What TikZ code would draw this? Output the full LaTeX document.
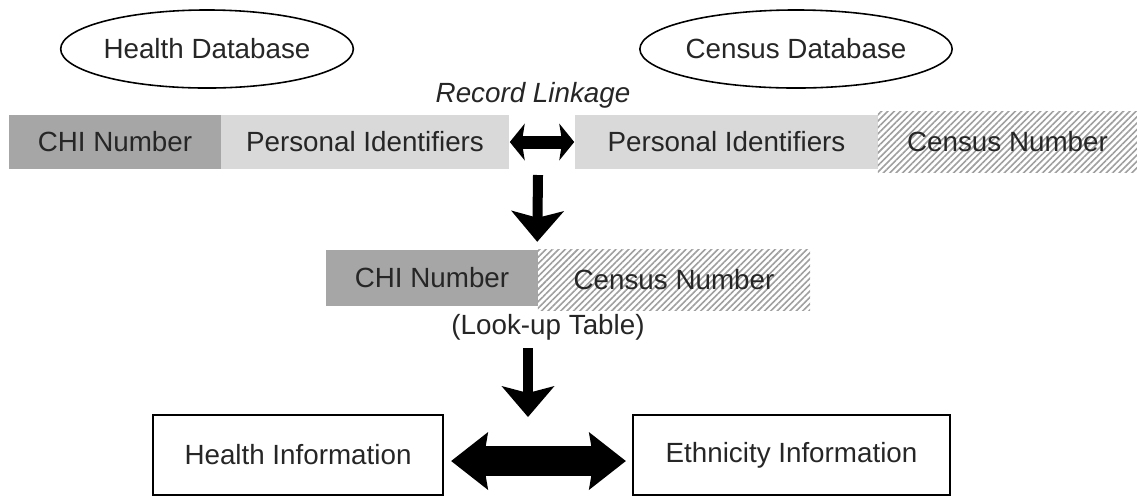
\documentclass[tikz,border=0pt]{standalone}
\usepackage{fontspec}
\setmainfont{Liberation Sans}
\usepackage{tikz}
\usetikzlibrary{shapes.geometric,arrows.meta,patterns.meta}

\begin{document}
\begin{tikzpicture}[x=0.01cm, y=-0.01cm,
    every node/.style={font=\fontsize{7.9}{9.5}\selectfont, text=black!85, inner sep=0pt},
    db/.style={draw, ellipse, line width=0.45pt, minimum height=0.78cm},
    field/.style={rectangle, minimum height=0.54cm},
    chifield/.style={field, fill=gray!70},
    idfield/.style={field, fill=gray!30},
    hatchfield/.style={field, pattern={Lines[angle=45,distance=0.045cm,line width=0.016cm]}, pattern color=gray!75},
    infobox/.style={draw, line width=0.6pt, minimum height=0.8cm},
    fatdown/.style={line width=0.1cm, -{Stealth[length=0.31cm, width=0.53cm, inset=0.07cm, line width=0pt]}},
    fatlink/.style={line width=0.13cm, {Stealth[length=0.15cm, width=0.37cm, inset=0.03cm, line width=0pt]}-{Stealth[length=0.15cm, width=0.37cm, inset=0.03cm, line width=0pt]}},
    fatjoin/.style={line width=0.3cm, {Stealth[length=0.37cm, width=0.58cm, inset=0.05cm, line width=0pt]}-{Stealth[length=0.37cm, width=0.58cm, inset=0.05cm, line width=0pt]}}
]
    \useasboundingbox (0,0) rectangle (1137,496);

    % Databases
    \node[db, minimum width=2.8cm] (hdb) at (207,49) {Health Database};
    \node[db, minimum width=2.9cm] (cdb) at (796,49) {Census Database};
    \node[font=\fontsize{7.9}{9.5}\selectfont\itshape] (link) at (533,95) {Record Linkage};

    % Fields
    \node[chifield, minimum width=2.12cm] (chiA) at (115,142) {CHI Number};
    \node[idfield, minimum width=2.88cm] (idA) at (365,142) {Personal Identifiers};
    \node[idfield, minimum width=3.03cm] (idB) at (726.5,142) {Personal Identifiers};
    \node[hatchfield, minimum width=2.59cm, minimum height=0.6cm] (censA) at (1007.5,142) {Census Number};

    % Look-up table
    \node[chifield, minimum width=2.12cm, minimum height=0.56cm] (chiB) at (432,278) {CHI Number};
    \node[hatchfield, minimum width=2.72cm, minimum height=0.61cm] (censB) at (674,280) {Census Number};
    \node (lookup) at (548,327) {(Look-up Table)};

    % Information
    \node[infobox, minimum width=2.9cm] (hinfo) at (298,455) {Health Information};
    \node[infobox, minimum width=3.17cm] (einfo) at (791.5,455) {Ethnicity Information};

    % Arrows
    \coordinate (split) at (538,175);
    \coordinate (lookdown) at (528,348);
    \coordinate (infojoin) at (528,417);
    \draw[fatlink] (idA.east) -- (idB.west);
    \draw[fatdown] (split) -- ([yshift=0.07cm]censB.north west);
    \draw[fatdown] (lookdown) -- (infojoin);
    \draw[fatjoin] ([xshift=0.07cm,yshift=-0.06cm]hinfo.east) -- ([xshift=-0.06cm,yshift=-0.06cm]einfo.west);

\end{tikzpicture}
\end{document}
